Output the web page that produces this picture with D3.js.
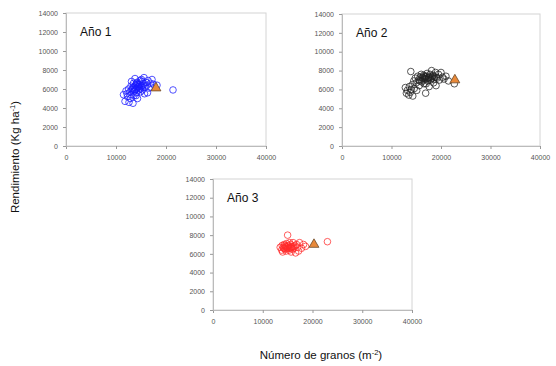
<!DOCTYPE html>
<html>
<head>
<meta charset="utf-8">
<script src="https://cdn.jsdelivr.net/npm/d3@7"></script>
<style>
  body { margin: 0; background: #fff; }
  svg { font-family: "Liberation Sans", Arial, sans-serif; }
  .tick text { fill: #555; font-size: 7px; }
</style>
</head>
<body>
<div id="chart"></div>
<script>
// data: [granos m-2, rendimiento kg/ha]
var year1 = [[11500,5400],[11800,4700],[12000,5800],[12200,5500],[12500,6000],[12300,5200],[12800,5700],[12600,4600],[13000,6300],[13200,5900],[13000,5400],[13400,4500],[13500,6600],[13300,6100],[13700,5800],[13600,5300],[13900,6400],[13800,7100],[14000,6000],[14200,6700],[14100,5600],[14400,6200],[14300,5000],[14600,6500],[14500,5900],[14800,6900],[14700,6100],[15000,6300],[14900,5700],[15200,6800],[15100,7000],[15400,6400],[15300,5900],[15600,7200],[15500,6600],[15800,6200],[15700,5500],[16000,6700],[16200,6400],[16400,6900],[16600,6100],[16300,5600],[16900,6600],[17200,7000],[17000,6200],[17500,6500],[18200,6400],[13100,6800],[12900,5000],[14000,5300],[21400,5900],
  [13400,6000],[13600,6200],[13800,5900],[14000,6300],[14200,6100],[14400,6500],[14600,6300],[14800,6000],[13500,5700],[14100,6600],[14900,6500],[15200,6200]];
var year2 = [[12800,6200],[13000,5600],[13200,5900],[13500,5400],[13600,6300],[13800,5700],[14000,6000],[13900,7900],[14200,6500],[14300,5300],[14500,6900],[14600,6100],[14800,7200],[15000,6700],[15100,5900],[15300,7400],[15500,7000],[15600,6400],[15800,7300],[16000,7600],[16100,6800],[16300,7200],[16500,7500],[16600,6600],[16800,7100],[16900,5600],[17000,7400],[17200,7700],[17300,6900],[17500,7300],[17600,6300],[17800,7600],[18000,7100],[18100,8000],[18300,7400],[18500,6700],[18700,7300],[18900,7800],[19000,6400],[19200,7200],[19500,7600],[19700,7000],[20000,7800],[20300,7300],[20600,7100],[21000,7400],[21500,6900],[22700,6600],[16400,7000],[17000,6600],[15700,6900],
  [16200,7300],[16600,7200],[16900,7300],[17100,7100],[17400,7200],[17700,7300],[18200,7200],[18600,7100],[19000,7300],[16700,7400],[17900,7000],[18400,7500]];
var year3 = [[13500,6700],[13800,6400],[13900,6900],[14000,6200],[14200,6600],[14300,7000],[14500,6500],[14600,6800],[14700,6300],[14800,7100],[15000,8000],[15000,6600],[15200,6900],[15300,6400],[15500,6700],[15600,7000],[15700,6200],[15800,6800],[16000,6500],[16100,7200],[16300,6600],[16500,6900],[16600,6100],[16800,7000],[17000,6700],[17200,6300],[17400,7200],[17800,6600],[18200,7000],[18600,6800],[23000,7300],[14400,6900],[15400,7200],
  [14100,6700],[14400,6600],[14700,6700],[15000,6800],[15300,6600],[15600,6600],[15900,6700],[16200,6800]];
// triangle marker per year
var means = [[18000,6100],[22800,7000],[20300,7000]];
var titles = ["Año 1", "Año 2", "Año 3"];
var colors = ["#1a1aff", "#222", "#ff2a2a"];
var xTicks = [0, 10000, 20000, 30000, 40000];
var yTicks = [0, 2000, 4000, 6000, 8000, 10000, 12000, 14000];

var svgWidth = 556;
var svgHeight = 366;

var svg = d3.select("#chart")
  .append("svg")
  .attr("width", svgWidth)
  .attr("height", svgHeight);

// panel boxes: left, top, width, height
var panels = [
  { x: 66, y: 13, w: 200, h: 133, data: year1 },
  { x: 342, y: 14, w: 198, h: 132, data: year2 },
  { x: 213, y: 179, w: 199, h: 131, data: year3 }
];

panels.forEach(function(p, i) {
  var g = svg.append("g")
    .attr("transform", `translate(${p.x}, ${p.y})`);

  var xScale = d3.scaleLinear().domain([0, 40000]).range([0, p.w]);
  var yScale = d3.scaleLinear().domain([0, 14000]).range([p.h, 0]);

  // plot area border
  g.append("rect")
    .attr("width", p.w)
    .attr("height", p.h)
    .attr("fill", "none")
    .attr("stroke", "#d4d4d4")
    .attr("stroke-width", 1);

  var xAxis = g.append("g")
    .attr("transform", `translate(0, ${p.h})`)
    .call(d3.axisBottom(xScale).tickValues(xTicks).tickSize(3).tickPadding(6).tickFormat(d3.format("d")));

  var yAxis = g.append("g")
    .call(d3.axisLeft(yScale).tickValues(yTicks).tickSize(3).tickPadding(5).tickFormat(d3.format("d")));

  [xAxis, yAxis].forEach(function(a) {
    a.select(".domain").attr("stroke", "#bbb");
    a.selectAll(".tick line").attr("stroke", "#999");
  });

  // circles
  g.selectAll("circle")
    .data(p.data)
    .enter()
    .append("circle")
    .attr("cx", d => xScale(d[0]))
    .attr("cy", d => yScale(d[1]))
    .attr("r", 3.3)
    .attr("fill", "none")
    .attr("stroke", colors[i])
    .attr("stroke-opacity", 0.75)
    .attr("stroke-width", 1);

  // triangle
  g.append("path")
    .attr("d", d3.symbol().type(d3.symbolTriangle).size(42)())
    .attr("transform", `translate(${xScale(means[i][0])}, ${yScale(means[i][1])})`)
    .attr("fill", "#e8893a")
    .attr("stroke", "#6b4a2a")
    .attr("stroke-width", 0.8);

  g.append("text")
    .attr("x", 14)
    .attr("y", 23)
    .attr("font-size", "12px")
    .attr("fill", "#111")
    .text(titles[i]);
});

// axes labels
var yLabel = svg.append("text")
  .attr("transform", "rotate(-90)")
  .attr("x", -157)
  .attr("y", 19)
  .attr("text-anchor", "middle")
  .attr("font-size", "11.5px")
  .attr("fill", "#111");
yLabel.append("tspan").text("Rendimiento (Kg ha");
yLabel.append("tspan").attr("font-size", "7.5px").attr("dy", -4).text("-1");
yLabel.append("tspan").attr("dy", 4).text(")");

var xLabel = svg.append("text")
  .attr("x", 321)
  .attr("y", 359)
  .attr("text-anchor", "middle")
  .attr("font-size", "11.5px")
  .attr("fill", "#111");
xLabel.append("tspan").text("Número de granos (m");
xLabel.append("tspan").attr("font-size", "7.5px").attr("dy", -4).text("-2");
xLabel.append("tspan").attr("dy", 4).text(")");
</script>
</body>
</html>
